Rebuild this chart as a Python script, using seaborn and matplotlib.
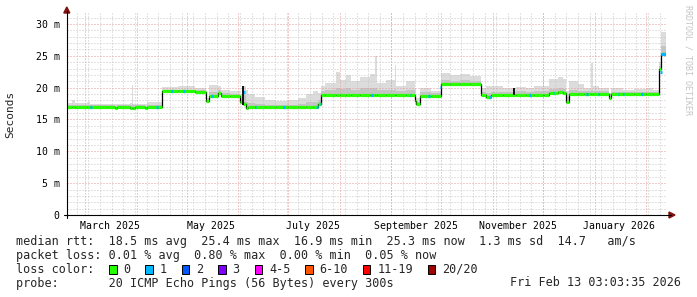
import matplotlib
matplotlib.use("Agg")
import matplotlib.pyplot as plt
from matplotlib.patches import Rectangle, Polygon
from matplotlib.lines import Line2D
import seaborn as sns
import pandas as pd

# ---------------- data ----------------
period_start = "2025-02-18 03:03"
period_end = "2026-02-13 03:03"

seg_start = [
    "2025-02-18 03:03", "2025-02-21", "2025-02-23", "2025-03-02", "2025-03-04",
    "2025-03-14", "2025-03-19", "2025-03-20", "2025-03-28", "2025-03-29",
    "2025-03-30", "2025-03-31", "2025-04-06", "2025-04-07", "2025-04-16 12:00",
    "2025-04-26", "2025-05-06", "2025-05-13", "2025-05-14 12:00", "2025-05-20",
    "2025-05-22", "2025-05-27", "2025-06-02", "2025-06-04", "2025-06-05 12:00",
    "2025-06-07", "2025-06-11", "2025-06-17", "2025-06-24", "2025-07-01",
    "2025-07-07", "2025-07-12", "2025-07-16", "2025-07-19", "2025-07-21",
    "2025-07-23", "2025-07-30", "2025-08-01", "2025-08-05", "2025-08-08",
    "2025-08-13", "2025-08-19", "2025-08-22", "2025-08-23 12:00", "2025-08-29",
    "2025-09-03", "2025-09-04", "2025-09-10",
    "2025-09-15", "2025-09-16", "2025-09-18", "2025-09-25", "2025-09-30 18:00",
    "2025-10-06", "2025-10-12", "2025-10-18", "2025-10-25", "2025-10-28",
    "2025-10-31", "2025-11-07", "2025-11-15", "2025-11-21", "2025-11-26",
    "2025-12-01", "2025-12-02", "2025-12-05", "2025-12-10", "2025-12-13",
    "2025-12-15", "2025-12-17", "2025-12-22", "2025-12-26", "2025-12-30",
    "2025-12-31", "2026-01-04", "2026-01-10", "2026-01-11", "2026-01-18",
    "2026-01-25", "2026-02-01", "2026-02-05", "2026-02-09", "2026-02-10",
]

median_ms = [
    17.0, 17.0, 17.0, 17.0, 17.0,
    17.0, 16.8, 17.0, 16.8, 16.8,
    16.8, 17.0, 16.8, 17.0, 19.45,
    19.45, 19.35, 17.9, 18.75, 19.2,
    18.75, 18.75, 17.7, 17.5, 16.8,
    17.0, 17.0, 17.0, 17.0, 17.0,
    17.0, 17.0, 17.0, 17.5, 18.85,
    18.85, 18.85, 18.85, 18.85, 18.85,
    18.85, 18.85, 18.85, 18.85, 18.85,
    18.85, 18.85, 18.85,
    17.9, 17.4, 18.75, 18.75, 20.65,
    20.65, 20.65, 20.65, 18.9, 18.6,
    18.9, 18.9, 18.9, 18.9, 18.9,
    18.9, 18.9, 19.2, 19.3, 19.1,
    17.8, 19.0, 19.0, 19.0, 19.0,
    19.0, 19.0, 18.3, 19.0, 19.0,
    19.0, 19.0, 19.0, 23.0, 25.3,
]

smoke_mid_ms = [
    17.2, 17.3, 17.2, 17.2, 17.2,
    17.2, 17.1, 17.2, 17.2, 17.4,
    17.2, 17.2, 17.1, 17.3, 19.7,
    19.7, 19.6, 18.1, 19.3, 19.6,
    19.1, 19.0, 18.2, 18.8, 17.8,
    17.6, 17.4, 17.3, 17.3, 17.3,
    17.5, 17.7, 17.8, 18.0, 19.5,
    19.7, 20.0, 19.8, 19.9, 19.7,
    19.9, 20.0, 20.0, 19.7, 19.7,
    19.8, 19.5, 19.6,
    18.6, 17.8, 19.3, 19.2, 21.2,
    21.1, 21.2, 21.0, 19.3, 19.1,
    19.3, 19.3, 19.4, 19.3, 19.4,
    19.5, 19.4, 19.8, 20.0, 19.8,
    18.6, 19.6, 19.5, 19.4, 19.6,
    19.4, 19.4, 18.6, 19.3, 19.3,
    19.3, 19.3, 19.3, 23.4, 26.5,
]

smoke_hi_ms = [
    17.6, 18.1, 17.6, 17.8, 17.5,
    17.4, 17.4, 17.4, 17.6, 20.4,
    17.5, 17.5, 17.5, 17.7, 20.1,
    20.2, 20.0, 18.4, 20.4, 20.3,
    19.7, 19.4, 19.0, 20.3, 19.6,
    19.0, 18.5, 18.1, 17.9, 18.0,
    18.4, 19.0, 19.4, 19.2, 20.2,
    20.8, 22.5, 21.2, 22.0, 21.0,
    21.7, 22.2, 24.9, 20.7, 21.2,
    23.5, 20.2, 21.0,
    20.0, 18.4, 19.9, 19.4, 22.3,
    22.0, 22.2, 21.8, 20.0, 20.3,
    20.2, 20.0, 20.1, 19.9, 20.2,
    21.7, 20.2, 21.4, 21.7, 21.3,
    19.5, 21.1, 20.6, 20.0, 23.8,
    20.3, 20.0, 19.2, 19.9, 19.7,
    19.8, 19.9, 19.6, 24.0, 28.8,
]

# samples with 1/20 packet loss (blue marks on the median line)
loss1_dates = [
    "2025-03-04", "2025-04-13", "2025-04-22", "2025-04-29", "2025-05-16",
    "2025-06-04", "2025-06-11", "2025-06-28", "2025-07-18", "2025-07-20",
    "2025-08-20", "2025-09-12", "2025-09-23", "2025-09-30", "2025-10-30",
    "2025-11-23", "2025-12-07", "2025-12-27", "2026-01-03", "2026-01-15",
    "2026-01-18", "2026-01-29", "2026-02-09 12:00", "2026-02-10",
]
loss1_ms = [
    17.0, 17.0, 19.45, 19.45, 18.75,
    19.3, 17.0, 17.0, 17.0, 17.5,
    18.85, 18.85, 18.75, 20.1, 18.6,
    18.9, 19.2, 19.0, 19.0, 19.0,
    19.0, 19.0, 22.5, 25.3,
]
loss1_days = [1] * 23 + [3.13]

# short black jumps of the median
jump_dates = ["2025-06-04 06:00", "2025-11-13 12:00"]
jump_lo_ms = [17.3, 18.9]
jump_hi_ms = [20.3, 19.9]

ytick_values = [0, 5, 10, 15, 20, 25, 30]
ytick_labels = ["0", "5 m", "10 m", "15 m", "20 m", "25 m", "30 m"]
xlabel_dates = ["2025-03-16", "2025-05-16", "2025-07-16", "2025-09-16", "2025-11-16", "2026-01-16"]
xlabel_texts = ["March 2025", "May 2025", "July 2025", "September 2025", "November 2025", "January 2026"]

rtt_stats = ["18.5 ms avg", "25.4 ms max", "16.9 ms min", "25.3 ms now", "1.3 ms sd", "14.7   am/s"]
loss_stats = ["0.01 % avg", "0.80 % max", "0.00 % min", "0.05 % now"]
loss_labels = ["0", "1", "2", "3", "4-5", "6-10", "11-19", "20/20"]
loss_colors = ["#26ff00", "#00b8ff", "#0059ff", "#7e00ff", "#ff00ff", "#ff5500", "#ff0000", "#a10000"]
probe_text = "20 ICMP Echo Pings (56 Bytes) every 300s"
stamp_text = "Fri Feb 13 03:03:35 2026"

assert len(seg_start) == len(median_ms) == len(smoke_mid_ms) == len(smoke_hi_ms)
assert len(loss1_dates) == len(loss1_ms) == len(loss1_days)

def to_dt(values):
    return pd.to_datetime(values, format="ISO8601")

# ---------------- figure ----------------
sns.set_theme(style="white")
plt.rcParams['font.family'] = ['DejaVu Sans Mono']

W, H = 697, 297
def fx(px):
    return px / W
def fy(py):
    return 1 - py / H

fig = plt.figure(figsize=(W / 100, H / 100), dpi=100, facecolor="white")
x0, x1, ytop, ybot = 66.8, 666.2, 13.0, 215.0
ax = fig.add_axes([fx(x0), fy(ybot), (x1 - x0) / W, (ybot - ytop) / H])
ax.set_facecolor("white")
for s in ax.spines.values():
    s.set_visible(False)

t0 = pd.Timestamp(period_start)
t1 = pd.Timestamp(period_end)
starts = to_dt(seg_start)
ends = list(starts[1:]) + [t1]

step_df = pd.DataFrame({
    "t": list(starts) + [t1],
    "median": median_ms + [median_ms[-1]],
    "mid": smoke_mid_ms + [smoke_mid_ms[-1]],
    "hi": smoke_hi_ms + [smoke_hi_ms[-1]],
})

# smoke
ax.fill_between(step_df["t"], step_df["median"], step_df["hi"], step="post",
                color="#dcdcdc", lw=0, zorder=1)
ax.fill_between(step_df["t"], step_df["median"], step_df["mid"], step="post",
                color="#c4c4c4", lw=0, zorder=1.1)

# grid (dotted, drawn over the smoke, like rrdtool)
minor_kw = dict(color="#c6c6c6", lw=0.72, ls=(0, (1, 2)), zorder=2)
major_kw = dict(color="#e79a9a", lw=0.72, ls=(0, (1, 2)), zorder=2.1)
for wk in pd.date_range(t0, t1, freq="W-MON"):
    ax.axvline(wk, **minor_kw)
for mo in pd.date_range(t0, t1, freq="MS"):
    ax.axvline(mo, **major_kw)
for v in range(1, 32):
    ax.axhline(v, **(major_kw if v % 5 == 0 else minor_kw))

# median line: black step connector under loss-coloured segments
sns.lineplot(data=step_df, x="t", y="median", ax=ax, color="black", lw=0.9,
             drawstyle="steps-post", estimator=None, sort=False, zorder=3)
ax.hlines(median_ms, starts, ends, color=loss_colors[0], lw=2.3, zorder=4)
l1 = to_dt(loss1_dates)
l1_end = [d + pd.Timedelta(days=n) for d, n in zip(l1, loss1_days)]
ax.hlines(loss1_ms, l1, l1_end, color=loss_colors[1], lw=2.3, zorder=5)
ax.vlines(to_dt(jump_dates), jump_lo_ms, jump_hi_ms, color="black", lw=1.3, zorder=5)

ax.set_xlim(t0, t1)
ax.set_ylim(0, (ybot - ytop) / 6.367)
ax.set_xlabel("")
ax.set_ylabel("")
ax.set_yticks(ytick_values)
ax.set_yticklabels(ytick_labels)
ax.set_xticks(to_dt(xlabel_dates))
ax.set_xticklabels(xlabel_texts)
ax.tick_params(axis="both", length=0, labelsize=7.1, colors="black")
ax.tick_params(axis="y", pad=5.0)
ax.tick_params(axis="x", pad=4.0)
ax.grid(False)

# axes lines and arrows
fig.add_artist(Line2D([fx(64), fx(671)], [fy(ybot), fy(ybot)], color="black", lw=0.8,
                      transform=fig.transFigure))
fig.add_artist(Line2D([fx(x0), fx(x0)], [fy(218), fy(11)], color="black", lw=0.8,
                      transform=fig.transFigure))
fig.add_artist(Polygon([(fx(669), fy(212)), (fx(675), fy(215)), (fx(669), fy(218))],
                       closed=True, color="#7f1010", transform=fig.transFigure))
fig.add_artist(Polygon([(fx(x0 - 3), fy(13)), (fx(x0), fy(7)), (fx(x0 + 3), fy(13))],
                       closed=True, color="#7f1010", transform=fig.transFigure))

# axis label and watermark
fig.text(fx(10), fy(114), "Seconds", rotation=90, ha="center", va="center", fontsize=8.0)
fig.text(fx(688), fy(60), "RRDTOOL / TOBI OETIKER", rotation=-90, ha="center", va="center",
         fontsize=6.0, color="#c4c4c4")

# legend block
fs = 8.5
cw = 7.1
lx = 16
fig.text(fx(lx), fy(241.5), "median rtt:  " + "  ".join(rtt_stats), fontsize=fs, va="center")
fig.text(fx(lx), fy(255.3), "packet loss: " + "  ".join(loss_stats), fontsize=fs, va="center")
fig.text(fx(lx), fy(269.2), "loss color:", fontsize=fs, va="center")
bx = lx + 13 * cw + 0.7
for lab, col in zip(loss_labels, loss_colors):
    fig.add_artist(Rectangle((fx(bx), fy(273.5)), 7.5 / W, 9 / H, facecolor=col,
                             edgecolor="black", lw=0.7, transform=fig.transFigure))
    tx = bx + 14.3
    fig.text(fx(tx), fy(269.2), lab, fontsize=fs, va="center")
    bx = tx + len(lab) * cw + 15.0
fig.text(fx(lx), fy(283.0), "probe:       " + probe_text, fontsize=fs, va="center")
fig.text(fx(681.5), fy(283.0), stamp_text, fontsize=fs, va="center", ha="right")

fig.savefig("out.png", dpi=100, facecolor="white")
